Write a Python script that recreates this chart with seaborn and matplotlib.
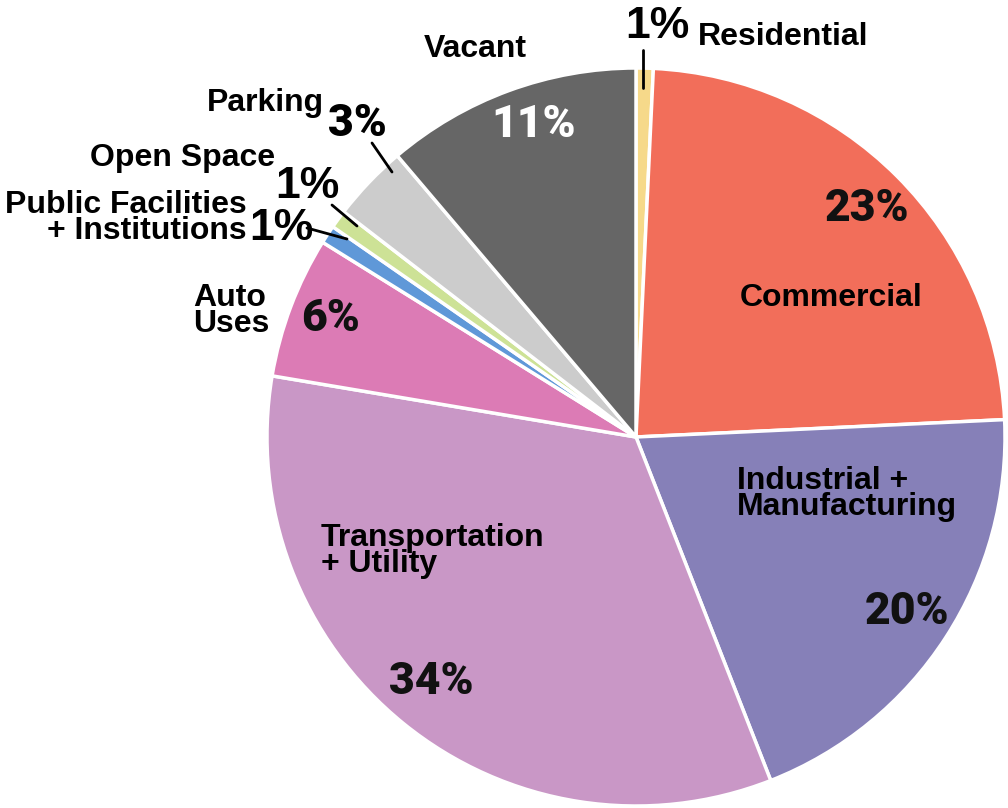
import numpy as np
import matplotlib
matplotlib.use("Agg")
import matplotlib.pyplot as plt
import seaborn as sns

# Land use shares (clockwise from the top)
categories = ["Residential", "Commercial", "Industrial + Manufacturing",
              "Transportation + Utility", "Auto Uses",
              "Public Facilities + Institutions", "Open Space", "Parking", "Vacant"]
shares = [0.75, 23.5, 19.8, 33.6, 6.2, 0.8, 0.8, 3.35, 11.2]
pct_labels = ["1%", "23%", "20%", "34%", "6%", "1%", "1%", "3%", "11%"]
colors = ["#f6d98a", "#f26e5a", "#8680b8", "#c997c6", "#dc7bb5",
          "#5f98d8", "#cde296", "#cccccc", "#666666"]

sns.set_theme(style="white")
plt.rcParams["font.family"] = ["Liberation Sans", "DejaVu Sans"]

W, H = 1008, 808
cx, cy, R = 636, 437, 369

fig = plt.figure(figsize=(W / 100, H / 100), dpi=100)
ax = fig.add_axes([0, 0, 1, 1])

ax.pie(shares, colors=colors, startangle=90, counterclock=False, radius=1,
       wedgeprops=dict(edgecolor="white", linewidth=2.5))

# pie() resets the limits, so set them afterwards
ax.set_xlim(-cx / R, (W - cx) / R)
ax.set_ylim(-(H - cy) / R, cy / R)
ax.axis("off")


def P(px, py):
    # pixel position -> data coords
    return (px - cx) / R, (cy - py) / R


name_font = dict(fontsize=23, fontweight="bold", color="black", linespacing=0.85)
pct_font = dict(fontsize=32, fontweight="heavy", family=["Roboto", "DejaVu Sans"])
small_pct = dict(fontsize=32, fontweight="bold", family=["Liberation Sans Narrow", "Liberation Sans"])

# category names
ax.text(*P(783, 37), "Residential", ha="center", va="center", **name_font)
ax.text(*P(831, 298), "Commercial", ha="center", va="center", **name_font)
ax.text(*P(737, 494), "Industrial +\nManufacturing", ha="left", va="center", **name_font)
ax.text(*P(321, 551), "Transportation\n+ Utility", ha="left", va="center", **name_font)
ax.text(*P(193, 311), "Auto\nUses", ha="left", va="center", **name_font)
ax.text(*P(247, 218), "Public Facilities\n+ Institutions", ha="right", va="center",
        multialignment="right", **name_font)
ax.text(*P(183, 158), "Open Space", ha="center", va="center", **name_font)
ax.text(*P(265, 103), "Parking", ha="center", va="center", **name_font)
ax.text(*P(475, 49), "Vacant", ha="center", va="center", **name_font)

# percentage labels inside slices
ax.text(*P(867, 209), pct_labels[1], ha="center", va="center", color="#111111", **pct_font)
ax.text(*P(907, 612), pct_labels[2], ha="center", va="center", color="#111111", **pct_font)
ax.text(*P(431, 682), pct_labels[3], ha="center", va="center", color="#111111", **pct_font)
ax.text(*P(331, 319), pct_labels[4], ha="center", va="center", color="#111111", **pct_font)
ax.text(*P(534, 125), pct_labels[8], ha="center", va="center", color="white", **pct_font)

# small slices with leader lines
ax.text(*P(657, 27), pct_labels[0], ha="center", va="center", color="black", **small_pct)
ax.text(*P(357, 124), pct_labels[7], ha="center", va="center", color="black", **pct_font)
ax.text(*P(307, 187), pct_labels[6], ha="center", va="center", color="black", **small_pct)
ax.text(*P(281, 229), pct_labels[5], ha="center", va="center", color="black", **small_pct)

leaders = [((643, 50), (643, 88)),
           ((372, 143), (392, 172)),
           ((332, 205), (357, 226)),
           ((307, 228), (347, 239))]
for (x0, y0), (x1, y1) in leaders:
    a, b = P(x0, y0)
    c, d = P(x1, y1)
    ax.plot([a, c], [b, d], color="black", lw=2)

fig.savefig("out.png", dpi=100)
